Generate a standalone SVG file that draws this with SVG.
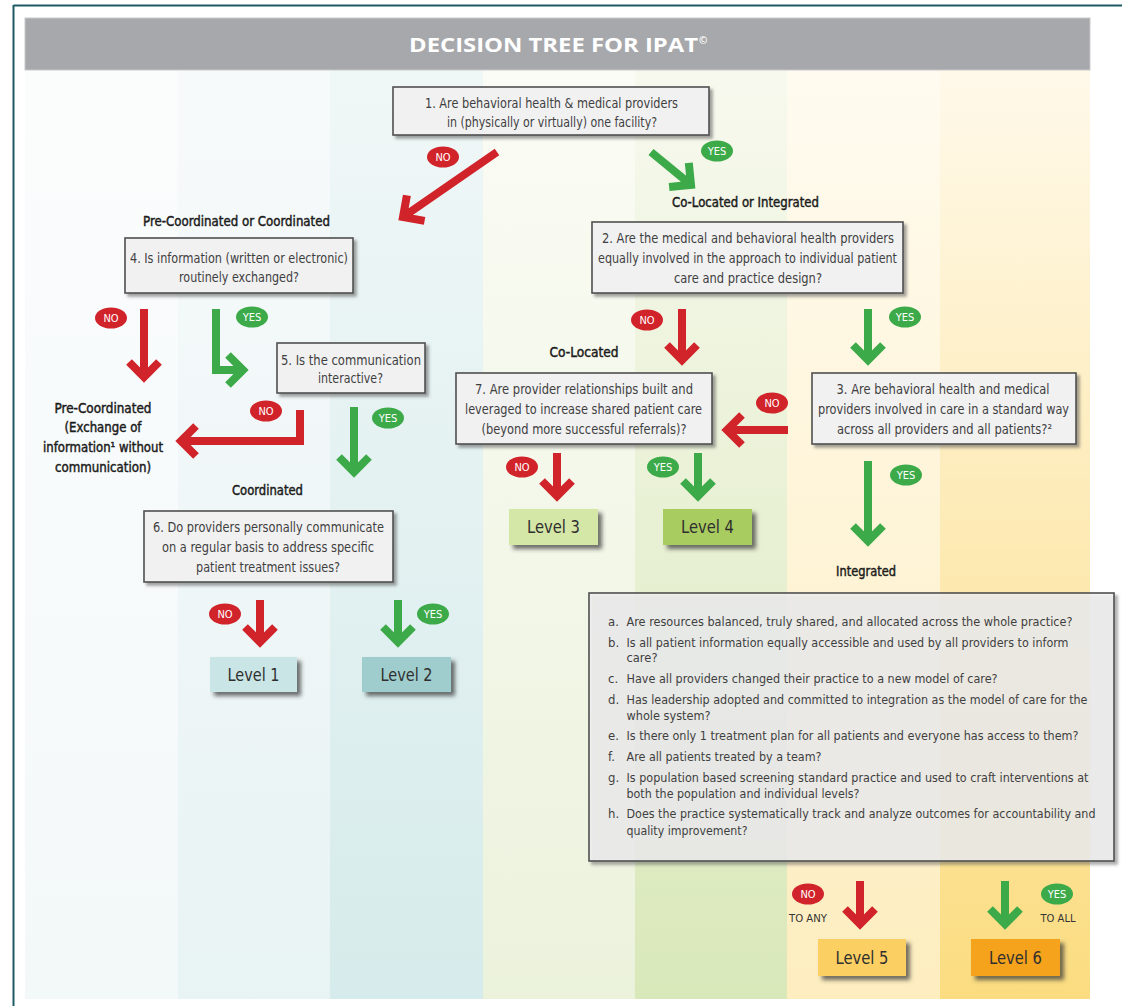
<svg xmlns="http://www.w3.org/2000/svg" width="1122" height="1006" viewBox="0 0 1122 1006">
<style>
.ft{font-family:"Liberation Sans Narrow","DejaVu Sans Condensed","Liberation Sans",Arial,sans-serif}
.qb{fill:#f1f1f2;stroke:#505050;stroke-width:1.6}
.qt{font-size:14px;fill:#3f3f3f;text-anchor:middle}
.lb{font-size:14px;fill:#1c1c1c;text-anchor:middle;stroke:#1c1c1c;stroke-width:0.45}
.lt{font-size:13px;fill:#3f3f3f}
.lv{font-size:18px;fill:#2f2f2f;text-anchor:middle}
.bt{font-size:11px;fill:#ffffff;text-anchor:middle}
.ar{fill:none;stroke-width:8;stroke-linejoin:miter;stroke-miterlimit:10;stroke-linecap:butt}
.r{stroke:#d1232a}
.g{stroke:#3daa4a}
.br{fill:#d1232a}
.bg{fill:#3daa4a}
.sm{font-size:11px;fill:#333;text-anchor:middle}
</style>
<defs>
<linearGradient id="c1" gradientUnits="userSpaceOnUse" x1="0" y1="70" x2="0" y2="999"><stop offset="0" stop-color="#fbfdfd"/><stop offset="1" stop-color="#f3f8f8"/></linearGradient>
<linearGradient id="c2" gradientUnits="userSpaceOnUse" x1="0" y1="70" x2="0" y2="999"><stop offset="0" stop-color="#f7fafb"/><stop offset="1" stop-color="#e8f3f3"/></linearGradient>
<linearGradient id="c3" gradientUnits="userSpaceOnUse" x1="0" y1="70" x2="0" y2="999"><stop offset="0" stop-color="#f0f7f7"/><stop offset="1" stop-color="#d6ebeb"/></linearGradient>
<linearGradient id="c4" gradientUnits="userSpaceOnUse" x1="0" y1="70" x2="0" y2="999"><stop offset="0" stop-color="#fbfcf5"/><stop offset="1" stop-color="#ebf2dc"/></linearGradient>
<linearGradient id="c5" gradientUnits="userSpaceOnUse" x1="0" y1="70" x2="0" y2="999"><stop offset="0" stop-color="#f7f9ee"/><stop offset="1" stop-color="#d9e8b9"/></linearGradient>
<linearGradient id="c6" gradientUnits="userSpaceOnUse" x1="0" y1="70" x2="0" y2="999"><stop offset="0" stop-color="#fffbf0"/><stop offset="1" stop-color="#fdedbf"/></linearGradient>
<linearGradient id="c7" gradientUnits="userSpaceOnUse" x1="0" y1="70" x2="0" y2="999"><stop offset="0" stop-color="#fff9ea"/><stop offset="1" stop-color="#fbdc80"/></linearGradient>
<filter id="sh" x="-10%" y="-10%" width="130%" height="150%"><feDropShadow dx="3" dy="3" stdDeviation="1.5" flood-color="#555" flood-opacity="0.55"/></filter>
<filter id="lsh" x="-20%" y="-20%" width="150%" height="170%"><feDropShadow dx="4" dy="4" stdDeviation="2" flood-color="#333" flood-opacity="0.7"/></filter>
</defs>
<rect x="0" y="0" width="1122" height="1006" fill="#ffffff"/>
<g id="background">
<rect x="25" y="70" width="153" height="929" fill="url(#c1)"/>
<rect x="178" y="70" width="152" height="929" fill="url(#c2)"/>
<rect x="330" y="70" width="153" height="929" fill="url(#c3)"/>
<rect x="483" y="70" width="152" height="929" fill="url(#c4)"/>
<rect x="635" y="70" width="152" height="929" fill="url(#c5)"/>
<rect x="787" y="70" width="153" height="929" fill="url(#c6)"/>
<rect x="940" y="70" width="150" height="929" fill="url(#c7)"/>
<path d="M13.5 5.5 H1122 M13.5 5 V1006" fill="none" stroke="#1e5b66" stroke-width="2"/>
</g>
<g id="title">
<rect x="25" y="18" width="1065" height="52" fill="#a7a8ab" stroke="#c9c9cb" stroke-width="1"/>
<text x="409" y="52" font-family="'Open Sans','Liberation Sans',sans-serif" font-weight="bold" font-size="20" fill="#ffffff" textLength="289" lengthAdjust="spacingAndGlyphs">DECISION TREE FOR IPAT</text>
<text x="699" y="44" font-family="'Open Sans','Liberation Sans',sans-serif" font-weight="bold" font-size="10" fill="#ffffff">©</text>
</g>
<g id="connectors">
<path class="ar r" d="M497 152 L403 217 M424.6 220.9 L403 217 L406.9 195.4"/>
<path class="ar g" d="M651 152 L691 184.8 M688.8 162.9 L691 184.8 L669.1 187"/>
<path class="ar r" d="M144 309 V377 M129 362 L144 377 L159 362"/>
<path class="ar g" d="M216 309 V370 H243 M228 355 L243 370 L228 385"/>
<path class="ar r" d="M300 410 V441 H181 M196 426 L181 441 L196 456"/>
<path class="ar g" d="M354 407 V472 M339 457 L354 472 L369 457"/>
<path class="ar r" d="M260 600 V642 M245 627 L260 642 L275 627"/>
<path class="ar g" d="M398 600 V642 M383 627 L398 642 L413 627"/>
<path class="ar r" d="M682 309 V360 M667 345 L682 360 L697 345"/>
<path class="ar g" d="M868 309 V360 M853 345 L868 360 L883 345"/>
<path class="ar r" d="M788 430 H727 M742 415 L727 430 L742 445"/>
<path class="ar r" d="M557 453 V496 M542 481 L557 496 L572 481"/>
<path class="ar g" d="M698 453 V496 M683 481 L698 496 L713 481"/>
<path class="ar g" d="M868 461 V541 M853 526 L868 541 L883 526"/>
<path class="ar r" d="M860 881 V924 M845 909 L860 924 L875 909"/>
<path class="ar g" d="M1005 881 V924 M990 909 L1005 924 L1020 909"/>
</g>
<g id="badges" class="ft">
<ellipse class="br" cx="443" cy="157" rx="16" ry="10.5"/><text class="bt" x="443" y="161">NO</text>
<ellipse class="bg" cx="717" cy="151" rx="16" ry="10.5"/><text class="bt" x="717" y="155">YES</text>
<ellipse class="br" cx="111" cy="318" rx="16" ry="10.5"/><text class="bt" x="111" y="322">NO</text>
<ellipse class="bg" cx="252" cy="317" rx="16" ry="10.5"/><text class="bt" x="252" y="321">YES</text>
<ellipse class="br" cx="266" cy="411" rx="16" ry="10.5"/><text class="bt" x="266" y="415">NO</text>
<ellipse class="bg" cx="388" cy="418" rx="16" ry="10.5"/><text class="bt" x="388" y="422">YES</text>
<ellipse class="br" cx="225" cy="614" rx="16" ry="10.5"/><text class="bt" x="225" y="618">NO</text>
<ellipse class="bg" cx="433" cy="614" rx="16" ry="10.5"/><text class="bt" x="433" y="618">YES</text>
<ellipse class="br" cx="647" cy="320" rx="16" ry="10.5"/><text class="bt" x="647" y="324">NO</text>
<ellipse class="bg" cx="905" cy="317" rx="16" ry="10.5"/><text class="bt" x="905" y="321">YES</text>
<ellipse class="br" cx="772" cy="403" rx="16" ry="10.5"/><text class="bt" x="772" y="407">NO</text>
<ellipse class="br" cx="522" cy="467" rx="16" ry="10.5"/><text class="bt" x="522" y="471">NO</text>
<ellipse class="bg" cx="663" cy="467" rx="16" ry="10.5"/><text class="bt" x="663" y="471">YES</text>
<ellipse class="bg" cx="906" cy="475" rx="16" ry="10.5"/><text class="bt" x="906" y="479">YES</text>
<ellipse class="br" cx="808" cy="894" rx="16" ry="10.5"/><text class="bt" x="808" y="898">NO</text>
<ellipse class="bg" cx="1057" cy="894" rx="16" ry="10.5"/><text class="bt" x="1057" y="898">YES</text>
<text class="sm" x="808" y="922" textLength="38" lengthAdjust="spacingAndGlyphs">TO ANY</text>
<text class="sm" x="1058" y="922" textLength="35" lengthAdjust="spacingAndGlyphs">TO ALL</text>
</g>
<g id="labels" class="ft">
<text class="lb" x="236.5" y="226" textLength="187" lengthAdjust="spacingAndGlyphs">Pre-Coordinated or Coordinated</text>
<text class="lb" x="745.5" y="207" textLength="147" lengthAdjust="spacingAndGlyphs">Co-Located or Integrated</text>
<text class="lb" x="584" y="357" textLength="69" lengthAdjust="spacingAndGlyphs">Co-Located</text>
<text class="lb" x="267.5" y="495" textLength="71" lengthAdjust="spacingAndGlyphs">Coordinated</text>
<text class="lb" x="866" y="576" textLength="60" lengthAdjust="spacingAndGlyphs">Integrated</text>
<text class="lb" x="103" y="413" textLength="97" lengthAdjust="spacingAndGlyphs">Pre-Coordinated</text>
<text class="lb" x="103" y="432" textLength="77" lengthAdjust="spacingAndGlyphs">(Exchange of</text>
<text class="lb" x="103" y="452" textLength="120" lengthAdjust="spacingAndGlyphs">information¹ without</text>
<text class="lb" x="103" y="472" textLength="96" lengthAdjust="spacingAndGlyphs">communication)</text>
</g>
<g id="q1" class="ft">
<rect class="qb" x="393" y="87" width="316" height="48" filter="url(#sh)"/>
<text class="qt" x="551.5" y="108" textLength="253" lengthAdjust="spacingAndGlyphs">1.  Are behavioral health &amp; medical providers</text>
<text class="qt" x="552" y="127" textLength="210" lengthAdjust="spacingAndGlyphs">in (physically or virtually) one facility?</text>
</g>
<g id="q4" class="ft">
<rect class="qb" x="125" y="238" width="228" height="55" filter="url(#sh)"/>
<text class="qt" x="239" y="263" textLength="218" lengthAdjust="spacingAndGlyphs">4.  Is information (written or electronic)</text>
<text class="qt" x="239" y="282" textLength="120" lengthAdjust="spacingAndGlyphs">routinely exchanged?</text>
</g>
<g id="q5" class="ft">
<rect class="qb" x="277" y="343" width="148" height="50" filter="url(#sh)"/>
<text class="qt" x="351" y="365" textLength="140" lengthAdjust="spacingAndGlyphs">5.  Is the communication</text>
<text class="qt" x="350.5" y="383" textLength="65" lengthAdjust="spacingAndGlyphs">interactive?</text>
</g>
<g id="q6" class="ft">
<rect class="qb" x="144" y="511" width="249" height="71" filter="url(#sh)"/>
<text class="qt" x="268.5" y="532" textLength="231" lengthAdjust="spacingAndGlyphs">6.  Do providers personally communicate</text>
<text class="qt" x="268" y="552" textLength="212" lengthAdjust="spacingAndGlyphs">on a regular basis to address specific</text>
<text class="qt" x="268" y="572" textLength="144" lengthAdjust="spacingAndGlyphs">patient treatment issues?</text>
</g>
<g id="q2" class="ft">
<rect class="qb" x="592" y="222" width="311" height="71" filter="url(#sh)"/>
<text class="qt" x="748" y="243" textLength="292" lengthAdjust="spacingAndGlyphs">2.  Are the medical and behavioral health providers</text>
<text class="qt" x="747.5" y="263" textLength="299" lengthAdjust="spacingAndGlyphs">equally involved in the approach to individual patient</text>
<text class="qt" x="748" y="283" textLength="148" lengthAdjust="spacingAndGlyphs">care and practice design?</text>
</g>
<g id="q7" class="ft">
<rect class="qb" x="456" y="373" width="256" height="71" filter="url(#sh)"/>
<text class="qt" x="584" y="394" textLength="218" lengthAdjust="spacingAndGlyphs">7.  Are provider relationships built and</text>
<text class="qt" x="583.5" y="414" textLength="237" lengthAdjust="spacingAndGlyphs">leveraged to increase shared patient care</text>
<text class="qt" x="584" y="434" textLength="205" lengthAdjust="spacingAndGlyphs">(beyond more successful referrals)?</text>
</g>
<g id="q3" class="ft">
<rect class="qb" x="812" y="373" width="264" height="71" filter="url(#sh)"/>
<text class="qt" x="943" y="394" textLength="213" lengthAdjust="spacingAndGlyphs">3.  Are behavioral health and medical</text>
<text class="qt" x="943.5" y="414" textLength="251" lengthAdjust="spacingAndGlyphs">providers involved in care in a standard way</text>
<text class="qt" x="944.5" y="434" textLength="215" lengthAdjust="spacingAndGlyphs">across all providers and all patients?²</text>
</g>
<g id="checklist" class="ft">
<rect x="589" y="593" width="525" height="268" fill="#f1f1f2" fill-opacity="0.8" stroke="#505050" stroke-width="1.6" filter="url(#sh)"/>
<text class="lt" x="608" y="626">a.</text><text class="lt" x="626.5" y="626" textLength="446" lengthAdjust="spacingAndGlyphs">Are resources balanced, truly shared, and allocated across the whole practice?</text>
<text class="lt" x="608" y="647">b.</text><text class="lt" x="626.5" y="647" textLength="442" lengthAdjust="spacingAndGlyphs">Is all patient information equally accessible and used by all providers to inform</text>
<text class="lt" x="626.5" y="662" textLength="31" lengthAdjust="spacingAndGlyphs">care?</text>
<text class="lt" x="608" y="683">c.</text><text class="lt" x="626.5" y="683" textLength="371" lengthAdjust="spacingAndGlyphs">Have all providers changed their practice to a new model of care?</text>
<text class="lt" x="608" y="704">d.</text><text class="lt" x="626.5" y="704" textLength="461" lengthAdjust="spacingAndGlyphs">Has leadership adopted and committed to integration as the model of care for the</text>
<text class="lt" x="626.5" y="720" textLength="84" lengthAdjust="spacingAndGlyphs">whole system?</text>
<text class="lt" x="608" y="740">e.</text><text class="lt" x="626.5" y="740" textLength="452" lengthAdjust="spacingAndGlyphs">Is there only 1 treatment plan for all patients and everyone has access to them?</text>
<text class="lt" x="608" y="761">f.</text><text class="lt" x="626.5" y="761" textLength="195" lengthAdjust="spacingAndGlyphs">Are all patients treated by a team?</text>
<text class="lt" x="608" y="782">g.</text><text class="lt" x="626.5" y="782" textLength="462" lengthAdjust="spacingAndGlyphs">Is population based screening standard practice and used to craft interventions at</text>
<text class="lt" x="626.5" y="798" textLength="233" lengthAdjust="spacingAndGlyphs">both the population and individual levels?</text>
<text class="lt" x="608" y="818">h.</text><text class="lt" x="626.5" y="818" textLength="469" lengthAdjust="spacingAndGlyphs">Does the practice systematically track and analyze outcomes for accountability and</text>
<text class="lt" x="626.5" y="835" textLength="121" lengthAdjust="spacingAndGlyphs">quality improvement?</text>
</g>
<g id="level1" class="ft"><rect x="210" y="657" width="87" height="35" fill="#c9e5e5" filter="url(#lsh)"/><text class="lv" x="253.5" y="681" textLength="52" lengthAdjust="spacingAndGlyphs">Level 1</text></g>
<g id="level2" class="ft"><rect x="362" y="657" width="89" height="35" fill="#9fcdcd" filter="url(#lsh)"/><text class="lv" x="406.5" y="681" textLength="52" lengthAdjust="spacingAndGlyphs">Level 2</text></g>
<g id="level3" class="ft"><rect x="509" y="509" width="89" height="36" fill="#d5e7a7" filter="url(#lsh)"/><text class="lv" x="553.5" y="533" textLength="53" lengthAdjust="spacingAndGlyphs">Level 3</text></g>
<g id="level4" class="ft"><rect x="663" y="509" width="89" height="36" fill="#a9cc60" filter="url(#lsh)"/><text class="lv" x="707.5" y="533" textLength="53" lengthAdjust="spacingAndGlyphs">Level 4</text></g>
<g id="level5" class="ft"><rect x="818" y="939" width="88" height="37" fill="#fbcf62" filter="url(#lsh)"/><text class="lv" x="862" y="964" textLength="53" lengthAdjust="spacingAndGlyphs">Level 5</text></g>
<g id="level6" class="ft"><rect x="971" y="939" width="89" height="37" fill="#f5a31a" filter="url(#lsh)"/><text class="lv" x="1015.5" y="964" textLength="53" lengthAdjust="spacingAndGlyphs">Level 6</text></g>
</svg>
